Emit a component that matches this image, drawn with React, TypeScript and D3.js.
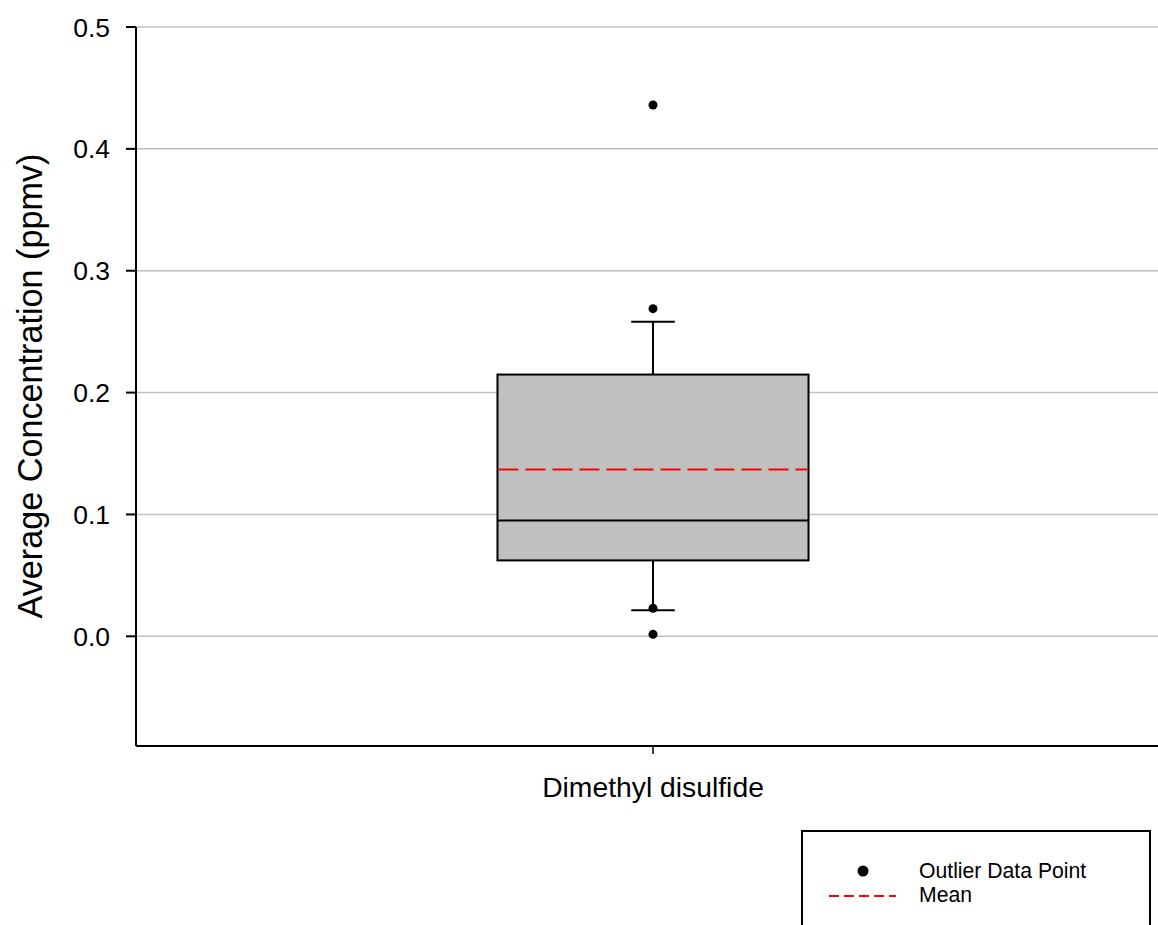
import React from "react";
import * as d3 from "d3";

const categories = ["Dimethyl disulfide"];
const q1 = [0.0623];
const median = [0.0951];
const q3 = [0.2148];
const whiskerLow = [0.0213];
const whiskerHigh = [0.2582];
const meanValues = [0.1369];
const outliers = [[0.436, 0.2689, 0.023, 0.0016]];
const yTicks = [0.0, 0.1, 0.2, 0.3, 0.4, 0.5];

const W = 1158;
const H = 925;
const left = 136;
const right = 1170;
const top = 27;
const bottom = 746;
const FONT = "Liberation Sans, Arial, Helvetica, sans-serif";

export default function App() {
  const y = d3.scaleLinear().domain([-0.09, 0.5]).range([bottom, top]);
  const x = d3.scaleBand<string>().domain(categories).range([left, right]).padding(0.5375);
  const bw = x.bandwidth();
  const capW = bw * 0.14;

  return (
    <svg width={W} height={H} style={{ position: "absolute", left: 0, top: 0, background: "#fff" }} fontFamily={FONT}>
      {yTicks.map((t) => (
        <line key={"g" + t} x1={left} x2={W} y1={y(t)} y2={y(t)} stroke="#c0c0c0" strokeWidth={1.5} />
      ))}
      {categories.map((c, i) => {
        const x0 = x(c)!;
        const cx = x0 + bw / 2;
        return (
          <g key={c}>
            <line x1={cx} x2={cx} y1={y(q3[i])} y2={y(whiskerHigh[i])} stroke="#000" strokeWidth={2} />
            <line x1={cx - capW / 2} x2={cx + capW / 2} y1={y(whiskerHigh[i])} y2={y(whiskerHigh[i])} stroke="#000" strokeWidth={2} />
            <line x1={cx} x2={cx} y1={y(q1[i])} y2={y(whiskerLow[i])} stroke="#000" strokeWidth={2} />
            <line x1={cx - capW / 2} x2={cx + capW / 2} y1={y(whiskerLow[i])} y2={y(whiskerLow[i])} stroke="#000" strokeWidth={2} />
            <rect x={x0} y={y(q3[i])} width={bw} height={y(q1[i]) - y(q3[i])} fill="#c0c0c0" stroke="#000" strokeWidth={2} />
            <line x1={x0} x2={x0 + bw} y1={y(median[i])} y2={y(median[i])} stroke="#000" strokeWidth={2} />
            <line x1={x0 + 1} x2={x0 + bw - 1} y1={y(meanValues[i])} y2={y(meanValues[i])} stroke="#ff0000" strokeWidth={2} strokeDasharray="20,7" />
            {outliers[i].map((v, j) => (
              <circle key={j} cx={cx} cy={y(v)} r={4.5} fill="#000" />
            ))}
          </g>
        );
      })}
      <line x1={left} x2={left} y1={top} y2={bottom} stroke="#000" strokeWidth={2} />
      <line x1={left} x2={W} y1={bottom} y2={bottom} stroke="#000" strokeWidth={2} />
      {yTicks.map((t) => (
        <g key={"t" + t}>
          <line x1={left - 10} x2={left} y1={y(t)} y2={y(t)} stroke="#000" strokeWidth={2} />
          <text x={110} y={y(t)} dy="0.36em" textAnchor="end" fontSize={26.5} fill="#000">
            {d3.format(".1f")(t)}
          </text>
        </g>
      ))}
      {categories.map((c) => {
        const cx = x(c)! + bw / 2;
        return (
          <g key={"x" + c}>
            <line x1={cx} x2={cx} y1={bottom} y2={bottom + 8} stroke="#000" strokeWidth={1.5} />
            <text x={cx} y={797} textAnchor="middle" fontSize={28.3} fill="#000">
              {c}
            </text>
          </g>
        );
      })}
      <text transform={`translate(42, 386) rotate(-90)`} textAnchor="middle" fontSize={34.2} fill="#000">
        Average Concentration (ppmv)
      </text>
      <rect x={802} y={831} width={348} height={120} fill="#fff" stroke="#000" strokeWidth={2} />
      <circle cx={863} cy={871} r={5.5} fill="#000" />
      <line x1={829} x2={896} y1={896} y2={896} stroke="#ff0000" strokeWidth={2} strokeDasharray="10,5" />
      <text x={919} y={878} fontSize={21.2} fill="#000">Outlier Data Point</text>
      <text x={919} y={902} fontSize={21.2} fill="#000">Mean</text>
    </svg>
  );
}
